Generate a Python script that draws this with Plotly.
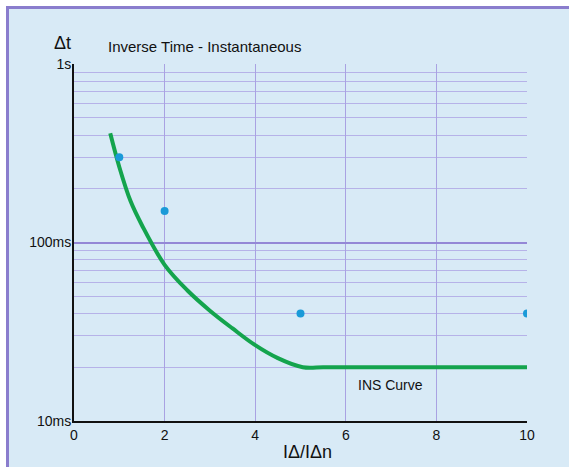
import math
import plotly.graph_objects as go

# ---- data ----
curve_x = [0.8, 1.0, 1.25, 1.5, 2.0, 2.5, 3.0, 3.5, 4.0, 4.5, 5.05, 5.5, 6, 8, 10]
curve_ms = [409, 265, 170, 125, 75, 54, 41.5, 33, 26.6, 22.5, 20, 20, 20, 20, 20]

point_x = [1, 2, 5, 10]
point_ms = [300, 150, 40, 40]

x_ticks = [0, 2, 4, 6, 8, 10]
y_tickvals = [0.01, 0.1, 1]
y_ticktext = ["10ms", "100ms", "1s"]
y_minor = [round(m * d, 4) for d in (0.01, 0.1) for m in range(2, 10)]

# ---- layout constants ----
W, H = 569, 467
L, R, T, B = 74, 42, 64, 46
PW, PH = W - L - R, H - T - B


def px(xp):
    return (xp - L) / PW


def py(yp):
    return (H - B - yp) / PH


FONT = "Liberation Sans, Arial, Helvetica, sans-serif"
BG = "#d8eaf6"
BORDER = "#8a7dcd"

fig = go.Figure()
fig.add_trace(go.Scatter(
    x=curve_x, y=[v / 1000 for v in curve_ms], mode="lines",
    line=dict(color="#14a44d", width=4, shape="spline", smoothing=1.0),
    hoverinfo="skip", showlegend=False))
fig.add_trace(go.Scatter(
    x=point_x, y=[v / 1000 for v in point_ms], mode="markers",
    marker=dict(color="#1a9ad8", size=8), showlegend=False))

fig.update_layout(
    width=W, height=H,
    margin=dict(l=L, r=R, t=T, b=B, pad=0),
    paper_bgcolor=BG,
    plot_bgcolor="rgba(0,0,0,0)",
    font=dict(family=FONT, color="#111111", size=14),
    showlegend=False,
    shapes=[
        dict(type="rect", xref="paper", yref="paper",
             x0=px(0), x1=px(W), y0=py(6), y1=py(0),
             fillcolor="white", line=dict(width=0), layer="below"),
        dict(type="rect", xref="paper", yref="paper",
             x0=px(0), x1=px(6), y0=py(H), y1=py(0),
             fillcolor="white", line=dict(width=0), layer="below"),
        dict(type="rect", xref="paper", yref="paper",
             x0=px(6), x1=px(W), y0=py(9), y1=py(6),
             fillcolor=BORDER, line=dict(width=0), layer="below"),
        dict(type="rect", xref="paper", yref="paper",
             x0=px(6), x1=px(9), y0=py(H), y1=py(6),
             fillcolor=BORDER, line=dict(width=0), layer="below"),
    ],
    annotations=[
        dict(text="Inverse Time - Instantaneous", xref="paper", yref="paper",
             x=px(106), y=py(47), xanchor="left", yanchor="middle",
             showarrow=False, font=dict(size=15, family=FONT, color="#111111")),
        dict(text="Δt", xref="paper", yref="paper",
             x=px(52), y=py(43), xanchor="left", yanchor="middle",
             showarrow=False, font=dict(size=18, family=FONT, color="#111111")),
        dict(text="IΔ/IΔn", xref="paper", yref="paper",
             x=px(307), y=py(452), xanchor="center", yanchor="middle",
             showarrow=False, font=dict(size=18, family=FONT, color="#111111")),
        dict(text="INS Curve", xref="x", yref="y",
             x=6.98, y=math.log10(0.0159), xanchor="center", yanchor="middle",
             showarrow=False, font=dict(size=14, family=FONT, color="#111111")),
    ],
)

fig.update_xaxes(
    range=[0, 10], tickvals=x_ticks, ticktext=[str(v) for v in x_ticks],
    showgrid=True, gridcolor="#a9a2e2", gridwidth=1,
    showline=True, linecolor="#111111", linewidth=2, mirror=False,
    zeroline=False, ticks="", tickfont=dict(size=14, family=FONT, color="#111111"),
    fixedrange=True,
)
fig.update_yaxes(
    type="log", range=[-2, 0],
    tickvals=y_tickvals, ticktext=y_ticktext,
    showgrid=True, gridcolor="#9488d6", gridwidth=2,
    showline=True, linecolor="#111111", linewidth=2, mirror=False,
    zeroline=False, ticks="", ticklabelstandoff=-2,
    tickfont=dict(size=14, family=FONT, color="#111111"),
    minor=dict(tickvals=y_minor, showgrid=True, gridcolor="#b6b2e8", gridwidth=1, ticks=""),
    fixedrange=True,
)

fig.write_html("out.html")
